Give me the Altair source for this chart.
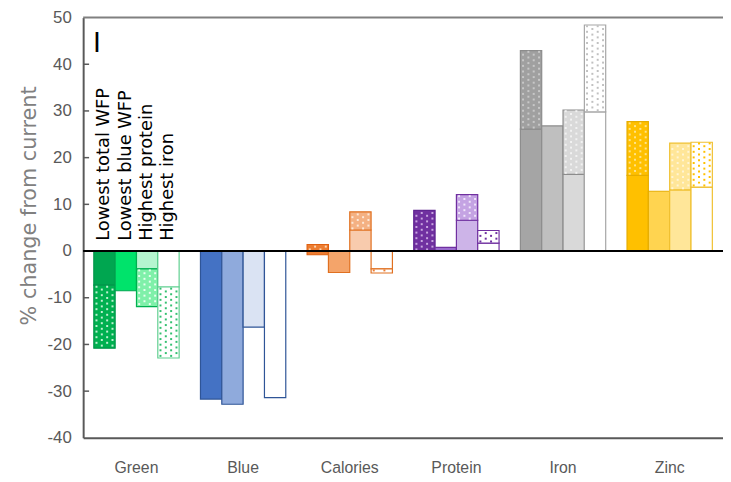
import altair as alt
import pandas as pd
import numpy as np

# ---------------- data ----------------
categories = ["Green", "Blue", "Calories", "Protein", "Iron", "Zinc"]
scenarios = ["Lowest total WFP", "Lowest blue WFP", "Highest protein", "Highest iron"]

# solid part of each bar (% change), one value per scenario
solid_green = [-7.3, -8.5, -3.8, -7.7]
solid_blue = [-31.7, -32.8, -16.3, -31.4]
solid_calories = [-0.8, -4.6, 4.5, -3.8]
solid_protein = [0.0, 0.8, 6.6, 1.7]
solid_iron = [26.1, 26.8, 16.4, 29.8]
solid_zinc = [16.2, 12.8, 13.1, 13.7]

# end of dotted part (None = no dotted part)
dotted_green = [-20.8, None, -11.9, -22.9]
dotted_blue = [None, None, None, None]
dotted_calories = [1.4, None, 8.4, -4.7]
dotted_protein = [8.7, None, 12.1, 4.4]
dotted_iron = [42.9, None, 30.2, 48.4]
dotted_zinc = [27.7, None, 23.1, 23.3]

y_ticks = [-40, -30, -20, -10, 0, 10, 20, 30, 40, 50]
inner_ticks = [-30, -20, -10, 10, 20, 30, 40]

solid_vals = [solid_green, solid_blue, solid_calories, solid_protein, solid_iron, solid_zinc]
dotted_vals = [dotted_green, dotted_blue, dotted_calories, dotted_protein, dotted_iron, dotted_zinc]

# ---------------- styles ----------------
solid_fill = {
    "Green": ["#00a650", "#00e36b", "#b5f5cf", "#ffffff"],
    "Blue": ["#4472c4", "#8faadc", "#dae3f3", "#ffffff"],
    "Calories": ["#ed7d31", "#f4a46a", "#f8cbad", "#ffffff"],
    "Protein": ["#7030a0", "#9b6ccf", "#cdb4e8", "#ffffff"],
    "Iron": ["#a5a5a5", "#bfbfbf", "#d9d9d9", "#ffffff"],
    "Zinc": ["#ffc000", "#ffd450", "#ffe699", "#ffffff"],
}
dotted_fill = {
    "Green": ["#00b050", "#00b050", "#7ff0a9", "#ffffff"],
    "Blue": ["#4472c4", "#8faadc", "#dae3f3", "#ffffff"],
    "Calories": ["#ed7d31", "#ed7d31", "#f4b183", "#ffffff"],
    "Protein": ["#7030a0", "#7030a0", "#c4a3e3", "#ffffff"],
    "Iron": ["#a0a0a0", "#a0a0a0", "#d9d9d9", "#ffffff"],
    "Zinc": ["#ffc000", "#ffc000", "#ffe699", "#ffffff"],
}
dot_color = {
    "Green": ["#bff0d2", "#bff0d2", "#e8fff0", "#33c070"],
    "Blue": ["#ffffff"] * 4,
    "Calories": ["#fbd5b5", "#fbd5b5", "#fde9d9", "#ed7d31"],
    "Protein": ["#c9a7e0", "#c9a7e0", "#f0e6fa", "#7030a0"],
    "Iron": ["#c8c8c8", "#c8c8c8", "#f2f2f2", "#c0c0c0"],
    "Zinc": ["#ffe38a", "#ffe38a", "#fff5d6", "#ffc000"],
}
stroke_color = {
    "Green": ["#00954a", "#00a650", "#00b050", "#5fd090"],
    "Blue": ["#2f5597", "#2f5597", "#2f5597", "#2f5597"],
    "Calories": ["#e06010", "#e07020", "#e07020", "#e07020"],
    "Protein": ["#5f2590", "#7030a0", "#7030a0", "#7030a0"],
    "Iron": ["#8c8c8c", "#8c8c8c", "#8c8c8c", "#a6a6a6"],
    "Zinc": ["#e6ad00", "#e6ad00", "#f0c030", "#f0c030"],
}

W, H = 647, 425
FONT_NUM = "Liberation Sans Narrow, Liberation Sans, Arial"
FONT_TXT = "DejaVu Sans"

# ---------------- tables ----------------
bar_rows, dot_rows = [], []
for ci, cat in enumerate(categories):
    for si, sc in enumerate(scenarios):
        s = solid_vals[ci][si]
        d = dotted_vals[ci][si]
        if s != 0:
            bar_rows.append(dict(category=cat, scenario=sc, y0=0.0, y1=s,
                                 fill=solid_fill[cat][si], stroke=stroke_color[cat][si]))
        if d is not None:
            start = s if (s != 0 and np.sign(s) == np.sign(d)) else 0.0
            bar_rows.append(dict(category=cat, scenario=sc, y0=start, y1=d,
                                 fill=dotted_fill[cat][si], stroke=stroke_color[cat][si]))
            # stipple texture inside the dotted segment
            span = abs(d - start)
            direction = 1 if d > start else -1
            k = 0
            pos = 0.35
            while pos < span - 0.15:
                cols = [0, 2] if k % 2 == 0 else [1, 3]
                for c in cols:
                    dot_rows.append(dict(category=cat, sub=si * 4 + c,
                                         y=start + direction * pos, color=dot_color[cat][si]))
                pos += 0.6
                k += 1

bars_df = pd.DataFrame(bar_rows)
dots_df = pd.DataFrame(dot_rows)
labels_df = pd.DataFrame(dict(category=["Green"] * 4, scenario=scenarios, y=[2.2] * 4))
ticks_df = pd.DataFrame(dict(t=inner_ticks))

x_scale = alt.Scale(domain=categories, paddingInner=0.2, paddingOuter=0.1)
y_scale = alt.Scale(domain=[-40, 50], nice=False, zero=False)

x_axis = alt.Axis(title=None, labelAngle=0, ticks=False, domainColor="#595959", domainWidth=2,
                  labelPadding=22, labelFont=FONT_NUM, labelFontSize=16, labelColor="#595959")
y_axis = alt.Axis(values=y_ticks, title="% change from current", tickSize=0, labelPadding=12,
                  labelExpr="'' + datum.value",
                  domainColor="#595959", domainWidth=2, grid=False,
                  labelFont=FONT_NUM, labelFontSize=17, labelColor="#595959",
                  titleFont=FONT_TXT, titleFontSize=21, titleFontWeight="normal",
                  titleColor="#808080", titleAngle=270, titleAlign="center",
                  titleBaseline="middle", titleX=-54, titleY=190)

bars = alt.Chart(bars_df).mark_bar(strokeWidth=1.2).encode(
    x=alt.X("category:N", sort=categories, scale=x_scale, axis=x_axis),
    xOffset=alt.XOffset("scenario:N", sort=scenarios,
                        scale=alt.Scale(domain=scenarios, paddingInner=0, paddingOuter=0)),
    y=alt.Y("y0:Q", scale=y_scale, axis=y_axis),
    y2="y1:Q",
    fill=alt.Fill("fill:N", scale=None),
    stroke=alt.Stroke("stroke:N", scale=None),
)

dots = alt.Chart(dots_df).mark_square(size=4, opacity=1).encode(
    x=alt.X("category:N", sort=categories, scale=x_scale),
    xOffset=alt.XOffset("sub:O", scale=alt.Scale(type="point", domain=list(range(16)), padding=0.5)),
    y=alt.Y("y:Q", scale=y_scale),
    color=alt.Color("color:N", scale=None),
)

labels = alt.Chart(labels_df).mark_text(angle=270, align="left", baseline="middle",
                                        font=FONT_TXT, fontSize=18, color="black").encode(
    x=alt.X("category:N", sort=categories, scale=x_scale),
    xOffset=alt.XOffset("scenario:N", sort=scenarios,
                        scale=alt.Scale(type="point", domain=scenarios, padding=0.5)),
    y=alt.Y("y:Q", scale=y_scale),
    text="scenario:N",
)

marker = alt.Chart(pd.DataFrame(dict(t=["I"]))).mark_text(
    font=FONT_TXT, fontSize=27, color="black", align="center", baseline="middle").encode(
    x=alt.value(14), y=alt.value(27), text="t:N")

inward = alt.Chart(ticks_df).mark_rule(color="#595959", strokeWidth=1.5).encode(
    y=alt.Y("t:Q", scale=y_scale), x=alt.value(0), x2=alt.value(6))

top_line = alt.Chart(pd.DataFrame(dict(v=[50]))).mark_rule(color="#808080", strokeWidth=2).encode(
    y=alt.Y("v:Q", scale=y_scale), x=alt.value(0), x2=alt.value(W))

zero_line = alt.Chart(pd.DataFrame(dict(v=[0]))).mark_rule(color="black", strokeWidth=2).encode(
    y=alt.Y("v:Q", scale=y_scale), x=alt.value(0), x2=alt.value(W))

chart = alt.layer(bars, dots, labels, marker, inward, top_line, zero_line).resolve_scale(
    xOffset="independent"
).properties(
    width=W, height=H,
    autosize=alt.AutoSizeParams(type="none"),
    padding={"left": 76, "top": 7, "right": 0, "bottom": 42},
).configure_view(stroke=None).configure_axisY(titleFontWeight="normal")

chart.save("out.html", embed_options={"renderer": "svg", "actions": False})
